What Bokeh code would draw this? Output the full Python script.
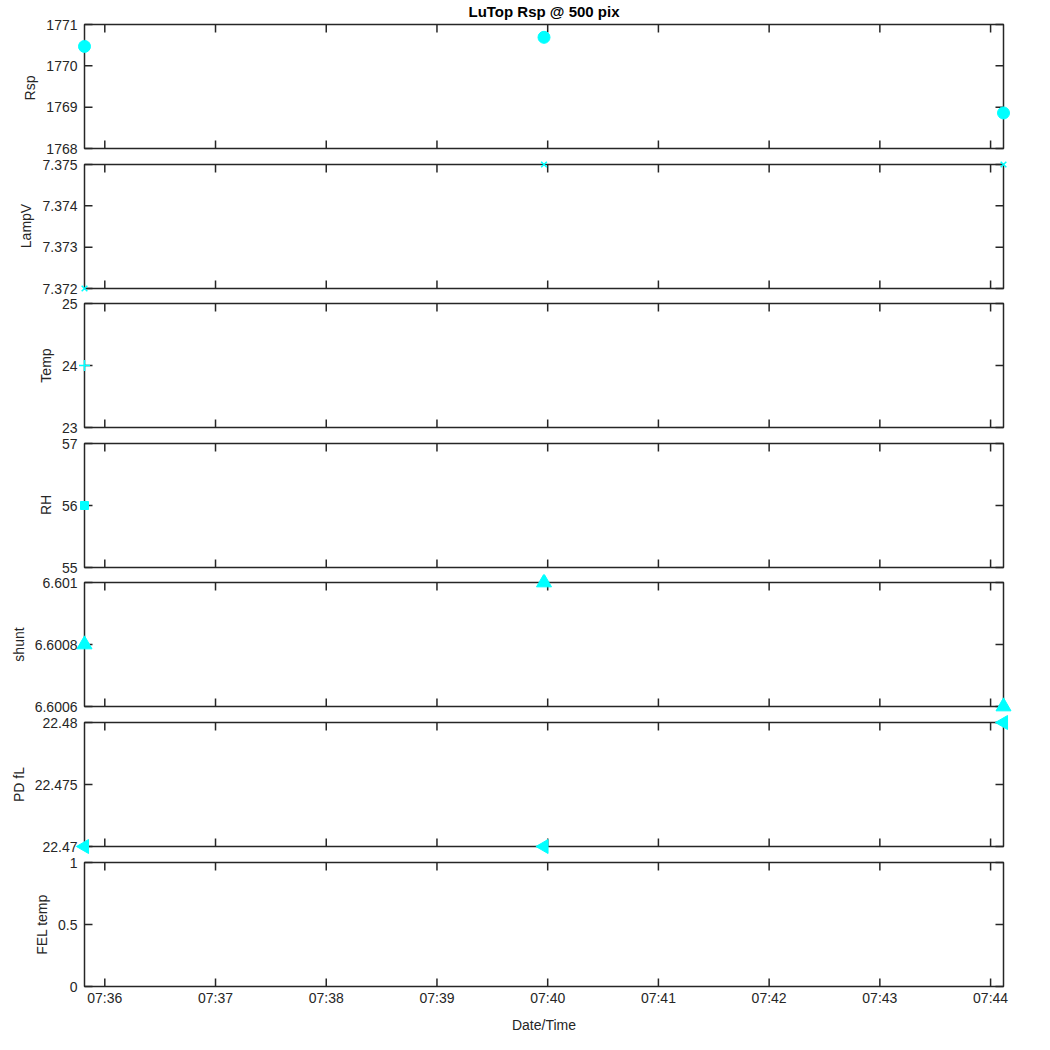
import math
import datetime as dt
from bokeh.plotting import figure
from bokeh.models import (Range1d, FixedTicker, CustomJSTickFormatter, LinearAxis,
                          DatetimeAxis, DatetimeTickFormatter)
from bokeh.layouts import column
from bokeh.embed import file_html
from bokeh.resources import INLINE

nan = float("nan")

# ---- data ----
day = "2020-01-01"
times = ["07:35:49", "07:39:58", "07:44:07"]
rsp = [1770.47, 1770.69, 1768.86]
lampv = [7.372, 7.375, 7.375]
temp = [24.0, nan, nan]
rh = [56.0, nan, nan]
shunt = [6.6008, 6.6010, 6.6006]
pdfl = [22.470, 22.470, 22.480]
feltemp = [nan, nan, nan]

x_tick_labels = ["07:36", "07:37", "07:38", "07:39", "07:40",
                 "07:41", "07:42", "07:43", "07:44"]

rsp_ticks = [1768, 1769, 1770, 1771]
lampv_ticks = [7.372, 7.373, 7.374, 7.375]
temp_ticks = [23, 24, 25]
rh_ticks = [55, 56, 57]
shunt_ticks = [6.6006, 6.6008, 6.6010]
pdfl_ticks = [22.470, 22.475, 22.480]
feltemp_ticks = [0, 0.5, 1]

panel_names = ["Rsp", "LampV", "Temp", "RH", "shunt", "PD fL", "FEL temp"]
title_text = "LuTop Rsp @ 500 pix"
x_label = "Date/Time"

# ---- helpers ----
def to_dt(s):
    return dt.datetime.strptime(day + " " + s, "%Y-%m-%d %H:%M:%S")

def to_ms(d):
    return (d - dt.datetime(1970, 1, 1)).total_seconds() * 1000.0

xs = [to_dt(t) for t in times]
xs_ms = [to_ms(d) for d in xs]
x_tick_ms = [to_ms(dt.datetime.strptime(day + " " + t, "%Y-%m-%d %H:%M")) for t in x_tick_labels]

FONT = "Liberation Sans"
INK = "#262626"
CYAN = "#00FFFF"
FS = "14px"

BOX_W, BOX_H = 919, 124      # axes box size in px
PAD_X = 10                   # room around the box so edge markers are not cut
PAD_TOP = [5, 8, 8, 8, 8, 8, 8]
PAD_BOT = [8, 7, 8, 7, 8, 8, 8]
TICK = 8

panels = [
    (panel_names[0], rsp, rsp_ticks, dict(marker="circle", size=12)),
    (panel_names[1], lampv, lampv_ticks, dict(marker="x", size=8)),
    (panel_names[2], temp, temp_ticks, dict(marker="cross", size=11)),
    (panel_names[3], rh, rh_ticks, dict(marker="square", size=8)),
    (panel_names[4], shunt, shunt_ticks, dict(marker="triangle", size=15)),
    (panel_names[5], pdfl, pdfl_ticks, dict(marker="triangle", size=14, angle=math.pi / 2)),
    (panel_names[6], feltemp, feltemp_ticks, dict(marker="circle", size=8)),
]

ytick_fmt = CustomJSTickFormatter(code="return String(parseFloat(tick.toFixed(6)));")
xfmt = DatetimeTickFormatter(seconds="%H:%M", minsec="%H:%M", minutes="%H:%M",
                             hourmin="%H:%M", hours="%H:%M", context=None)

x0, x1 = xs_ms[0], xs_ms[-1]
xpad = (x1 - x0) * PAD_X / BOX_W

figs = []
n = len(panels)
for i, (name, vals, yt, mk) in enumerate(panels):
    first = i == 0
    last = i == n - 1
    y0, y1 = yt[0], yt[-1]
    pt, pb = PAD_TOP[i], PAD_BOT[i]
    per_px = (y1 - y0) / BOX_H
    p = figure(frame_width=BOX_W + 2 * PAD_X, frame_height=BOX_H + pt + pb,
               output_backend="svg", toolbar_location=None,
               x_axis_type=None, y_axis_type=None,
               x_range=Range1d(x0 - xpad, x1 + xpad),
               y_range=Range1d(y0 - pb * per_px, y1 + pt * per_px),
               min_border_left=74, min_border_right=10,
               min_border_top=16 if first else 0,
               min_border_bottom=40 if last else 0,
               background_fill_color="white", border_fill_color="white")
    p.outline_line_color = None
    p.xgrid.visible = False
    p.ygrid.visible = False

    # axes box
    p.quad(left=[x0], right=[x1], bottom=[y0], top=[y1], fill_color=None,
           line_color=INK, line_width=1.5)
    # inward ticks
    p.ray(x=[x0] * len(yt), y=yt, length=TICK, length_units="screen", angle=0,
          line_color=INK, line_width=1.5)
    p.ray(x=[x1] * len(yt), y=yt, length=TICK, length_units="screen", angle=math.pi,
          line_color=INK, line_width=1.5)
    p.ray(x=x_tick_ms, y=[y0] * len(x_tick_ms), length=TICK, length_units="screen",
          angle=math.pi / 2, line_color=INK, line_width=1.5)
    p.ray(x=x_tick_ms, y=[y1] * len(x_tick_ms), length=TICK, length_units="screen",
          angle=-math.pi / 2, line_color=INK, line_width=1.5)

    # y tick labels + axis label
    ax = LinearAxis(ticker=FixedTicker(ticks=yt, minor_ticks=[]), formatter=ytick_fmt)
    ax.axis_line_color = None
    ax.major_tick_line_color = None
    ax.minor_tick_line_color = None
    ax.major_tick_in = 0
    ax.major_tick_out = 0
    ax.major_label_text_font = FONT
    ax.major_label_text_font_size = FS
    ax.major_label_text_color = INK
    ax.major_label_standoff = -(PAD_X - 7)
    ax.axis_label = name
    ax.axis_label_text_font = FONT
    ax.axis_label_text_font_size = FS
    ax.axis_label_text_font_style = "normal"
    ax.axis_label_text_color = INK
    ax.axis_label_standoff = 5
    p.add_layout(ax, "left")

    if last:
        bx = DatetimeAxis(ticker=FixedTicker(ticks=x_tick_ms, minor_ticks=[]), formatter=xfmt)
        bx.axis_line_color = None
        bx.major_tick_line_color = None
        bx.minor_tick_line_color = None
        bx.major_tick_in = 0
        bx.major_tick_out = 0
        bx.major_label_text_font = FONT
        bx.major_label_text_font_size = FS
        bx.major_label_text_color = INK
        bx.major_label_standoff = -5
        bx.axis_label = x_label
        bx.axis_label_text_font = FONT
        bx.axis_label_text_font_size = FS
        bx.axis_label_text_font_style = "normal"
        bx.axis_label_text_color = INK
        bx.axis_label_standoff = 8
        p.add_layout(bx, "below")

    if first:
        p.title.text = title_text
        p.title.text_font = FONT
        p.title.text_font_size = "15px"
        p.title.text_font_style = "bold"
        p.title.text_color = "black"
        p.title.align = "center"
        p.title.standoff = 0
        p.title.offset = 0

    good_x = [x for x, v in zip(xs_ms, vals) if not math.isnan(v)]
    good_v = [v for v in vals if not math.isnan(v)]
    if good_v:
        hollow = mk["marker"] in ("x", "cross")
        p.scatter(good_x, good_v, marker=mk["marker"], size=mk["size"],
                  angle=mk.get("angle", 0.0),
                  fill_color=None if hollow else CYAN,
                  line_color=CYAN, line_width=1.5 if hollow else 1)
    figs.append(p)

layout = column(*figs, spacing=0)
open("out.html", "w").write(file_html(layout, INLINE))
